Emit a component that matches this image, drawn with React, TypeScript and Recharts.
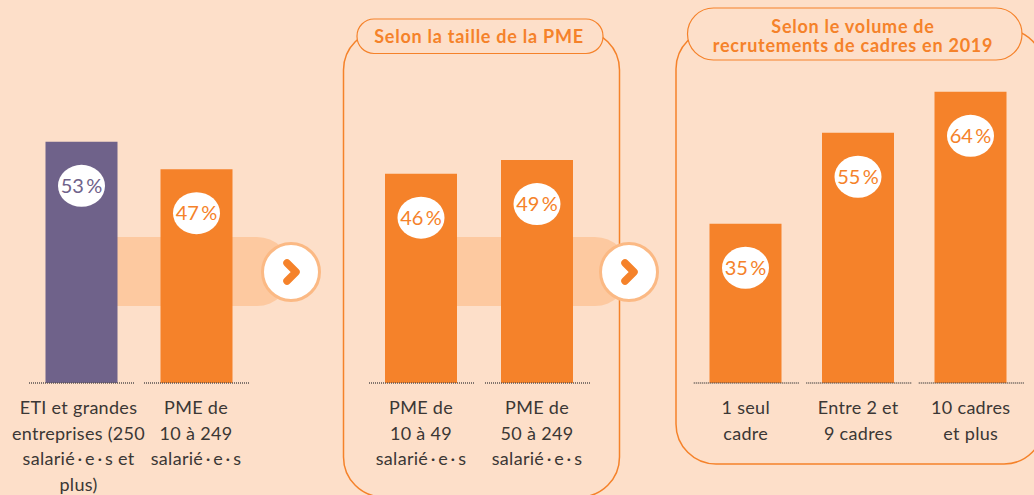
import React from 'react';
import { BarChart, Bar, Cell, XAxis, YAxis, LabelList } from 'recharts';

const ORANGE = '#f5822a';
const PURPLE = '#6f628a';
const BACKGROUND = '#fddfc9';
const STRIP = '#fdc9a0';
const RING = '#fbb984';
const INK = '#3b3735';
const FONT = 'Lato, "Noto Sans", sans-serif';

const Y_MAX = 70;

// Left group: all companies
const companyLabels = [
    ['ETI et grandes', 'entreprises (250', 'salarié\u2009·\u2009e\u2009·\u2009s et', 'plus)'],
    ['PME de', '10 à 249', 'salarié\u2009·\u2009e\u2009·\u2009s'],
];
const companyValues = [53, 47];
const companyColors = [PURPLE, ORANGE];

// Middle group: by size
const sizeLabels = [
    ['PME de', '10 à 49', 'salarié\u2009·\u2009e\u2009·\u2009s'],
    ['PME de', '50 à 249', 'salarié\u2009·\u2009e\u2009·\u2009s'],
];
const sizeValues = [46, 49];
const sizeColors = [ORANGE, ORANGE];

// Right group: by recruitment volume
const volumeLabels = [
    ['1 seul', 'cadre'],
    ['Entre 2 et', '9 cadres'],
    ['10 cadres', 'et plus'],
];
const volumeValues = [35, 55, 64];
const volumeColors = [ORANGE, ORANGE, ORANGE];

const sizeTitle = 'Selon la taille de la PME';
const volumeTitle = ['Selon le volume de', 'recrutements de cadres en 2019'];

const CategoryTick = ({ x, y, payload, labels, shift }: any) => {
    const lines: string[] = labels[payload.index] ?? [];
    const dx = lines.length > 3 ? shift : 0;
    return (
        <g>
            <line x1={x - 52} x2={x + 53} y1={y} y2={y} stroke="#5a5350" strokeWidth={1.5} strokeDasharray="1 1" />
            {lines.map((line, i) => (
                <text
                    key={i}
                    x={x + dx}
                    y={y + 31 + i * 25.5}
                    textAnchor="middle"
                    fill={INK}
                    style={{ fontFamily: FONT, fontSize: 18, letterSpacing: 0.3 }}
                >
                    {line}
                </text>
            ))}
        </g>
    );
};

// White oval with the percentage, sits 44px under the top of the bar
const ValueBubble = ({ x, y, width, value, index, colors }: any) => {
    const cx = x + width / 2;
    const cy = y + 44;
    return (
        <g>
            <ellipse cx={cx} cy={cy} rx={23.5} ry={21} fill="#ffffff" />
            <text
                x={cx}
                y={cy + 7}
                textAnchor="middle"
                fill={colors[index]}
                style={{ fontFamily: FONT, fontSize: 20 }}
            >
                {`${value}\u2009%`}
            </text>
        </g>
    );
};

interface GroupProps {
    left: number;
    width: number;
    marginLeft: number;
    marginRight: number;
    labels: string[][];
    values: number[];
    colors: string[];
}

const Group: React.FC<GroupProps> = ({ left, width, marginLeft, marginRight, labels, values, colors }) => {
    const data = values.map((value, i) => ({ name: labels[i].join(' '), value }));
    return (
        <div style={{ position: 'absolute', left, top: 0 }}>
            <BarChart
                width={width}
                height={495}
                data={data}
                margin={{ top: 64.5, right: marginRight, bottom: 0, left: marginLeft }}
                barCategoryGap={0}
            >
                <YAxis hide domain={[0, Y_MAX]} width={0} />
                <XAxis
                    dataKey="name"
                    height={112}
                    interval={0}
                    axisLine={false}
                    tickLine={false}
                    tickSize={0}
                    tickMargin={0}
                    tick={<CategoryTick labels={labels} shift={-2.5} />}
                />
                <Bar dataKey="value" barSize={72} isAnimationActive={false}>
                    {data.map((entry, index) => (
                        <Cell key={`cell-${index}`} fill={colors[index]} />
                    ))}
                    <LabelList dataKey="value" content={<ValueBubble colors={colors} />} />
                </Bar>
            </BarChart>
        </div>
    );
};

const Arrow = ({ stripFrom, cx }: { stripFrom: number; cx: number }) => (
    <g>
        <rect x={stripFrom} y={237} width={cx - stripFrom} height={69} rx={34} fill={STRIP} />
        <rect x={stripFrom} y={237} width={40} height={69} fill={STRIP} />
        <circle cx={cx} cy={272} r={28.5} fill="#ffffff" stroke={RING} strokeWidth={3} />
        <path
            d={`M ${cx - 4} ${272 - 9} L ${cx + 5} 272 L ${cx - 4} ${272 + 9}`}
            fill="none"
            stroke={ORANGE}
            strokeWidth={7.5}
            strokeLinecap="round"
            strokeLinejoin="round"
        />
    </g>
);

const titleStyle: React.CSSProperties = { fontFamily: FONT, fontWeight: 700, fontSize: 18, letterSpacing: 0.75 };

const Backdrop = () => (
    <svg width={1034} height={495} style={{ position: 'absolute', left: 0, top: 0 }}>
        <rect x={343.5} y={30} width={276} height={467} rx={40} fill="none" stroke={ORANGE} strokeWidth={1.5} />
        <rect x={676} y={29} width={368} height={435} rx={40} fill="none" stroke={ORANGE} strokeWidth={1.5} />

        <Arrow stripFrom={100} cx={291} />
        <Arrow stripFrom={440} cx={629} />

        <rect x={357} y={19} width={246} height={34.5} rx={17} fill={BACKGROUND} stroke={ORANGE} strokeWidth={1.2} />
        <text x={479} y={43} textAnchor="middle" fill={ORANGE} style={titleStyle}>{sizeTitle}</text>

        <rect x={687.5} y={8} width={334.5} height={52} rx={26} fill={BACKGROUND} stroke={ORANGE} strokeWidth={1.2} />
        {volumeTitle.map((line, i) => (
            <text key={i} x={853} y={32.5 + i * 19} textAnchor="middle" fill={ORANGE} style={titleStyle}>{line}</text>
        ))}
    </svg>
);

const App: React.FC = () => (
    <div style={{ position: 'absolute', left: 0, top: 0, width: 1034, height: 495, overflow: 'hidden', background: BACKGROUND }}>
        <Backdrop />
        <Group left={0} width={290} marginLeft={23.5} marginRight={36.5} labels={companyLabels} values={companyValues} colors={companyColors} />
        <Group left={345} width={270} marginLeft={18} marginRight={20} labels={sizeLabels} values={sizeValues} colors={sizeColors} />
        <Group left={680} width={354} marginLeft={9.5} marginRight={7} labels={volumeLabels} values={volumeValues} colors={volumeColors} />
    </div>
);

export default App;
